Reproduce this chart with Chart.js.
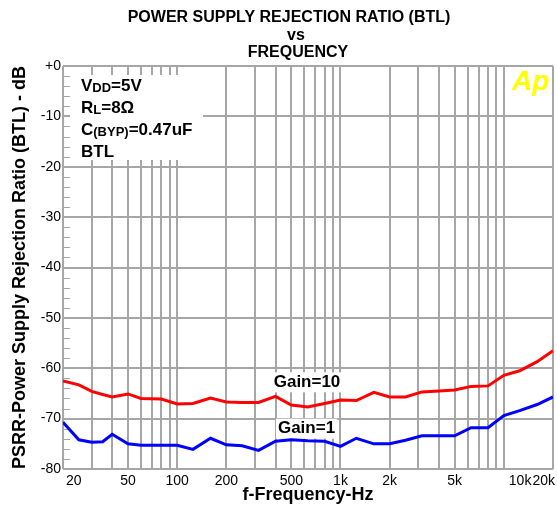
<!DOCTYPE html>
<html>
<head>
<meta charset="utf-8">
<title>PSRR vs Frequency</title>
<script src="https://cdn.jsdelivr.net/npm/chart.js@4.4.1/dist/chart.umd.min.js"></script>
<style>
    html, body { margin: 0; padding: 0; background: #fff; }
    #psrrChart { display: block; }
</style>
</head>
<body>
<canvas id="psrrChart" width="557" height="506"></canvas>
<script>
// data
const frequencies = [20, 25, 30, 35, 40, 50, 60, 80, 100, 125, 160, 200, 250, 315, 400, 500, 630, 800,
    1000, 1250, 1600, 2000, 2500, 3150, 4000, 5000, 6300, 8000, 10000, 12500, 16000, 20000];
const gain10 = [-62.5, -63.3, -64.6, -65.2, -65.7, -65.1, -66.0, -66.1, -67.1, -67.0, -65.9, -66.7, -66.8, -66.8,
    -65.6, -67.3, -67.7, -67.0, -66.3, -66.4, -64.8, -65.7, -65.7, -64.7, -64.5, -64.3, -63.6, -63.5,
    -61.4, -60.5, -58.7, -56.5];
const gain1 = [-70.7, -74.2, -74.7, -74.6, -73.1, -75.0, -75.3, -75.3, -75.3, -76.1, -73.9, -75.2, -75.4, -76.3,
    -74.5, -74.2, -74.4, -74.5, -75.5, -73.9, -75.0, -75.0, -74.3, -73.4, -73.4, -73.4, -71.8, -71.8,
    -69.4, -68.4, -67.2, -65.7];

const xGridValues = [20, 30, 40, 50, 60, 70, 80, 90, 100, 200, 300, 400, 500, 600, 700, 800, 900,
    1000, 2000, 3000, 4000, 5000, 6000, 7000, 8000, 9000, 10000, 20000];
const xLabelValues = [20, 50, 100, 200, 500, 1000, 2000, 5000, 10000, 20000];
const xLabelTexts = ['20', '50', '100', '200', '500', '1k', '2k', '5k', '10k', '20k'];

const titleLines = ['POWER SUPPLY REJECTION RATIO (BTL)', 'vs', 'FREQUENCY'];
// each line: [text, isSubscript]
const conditionLines = [
    [['V', false], ['DD', true], ['=5V', false]],
    [['R', false], ['L', true], ['=8\u03A9', false]],
    [['C', false], ['(BYP)', true], ['=0.47uF', false]],
    [['BTL', false]]
];

document.addEventListener('DOMContentLoaded', function () {
    const fontFamily = '"Liberation Sans", Arial, sans-serif';
    const gridColor = '#a6a6a6';

    const toPoints = (values) => frequencies.map((f, i) => ({ x: f, y: values[i] }));

    const decorations = {
        id: 'decorations',
        beforeDatasetsDraw(chart) {
            const { ctx, chartArea, scales: { x, y } } = chart;
            ctx.save();

            // small ticks every 2 dB on the left edge
            ctx.strokeStyle = gridColor;
            ctx.lineWidth = 1;
            for (let v = -78; v < 0; v += 2) {
                if (v % 10 === 0) continue;
                const py = Math.round(y.getPixelForValue(v)) + 0.5;
                ctx.beginPath();
                ctx.moveTo(chartArea.left, py);
                ctx.lineTo(chartArea.left + 7, py);
                ctx.stroke();
            }

            // white boxes behind the notes
            ctx.fillStyle = '#fff';
            ctx.fillRect(chartArea.left + 7, 75, 133, 85);
            ctx.font = 'bold 17px ' + fontFamily;
            [['Gain=10', 390, -62.8], ['Gain=1', 414, -72.0]].forEach(([text, f, db]) => {
                const w = ctx.measureText(text).width;
                ctx.fillRect(x.getPixelForValue(f) - 2, y.getPixelForValue(db) - 10, w + 4, 20);
            });
            ctx.restore();
        },
        afterDraw(chart) {
            const { ctx, scales: { x, y } } = chart;
            ctx.save();
            ctx.fillStyle = '#000';

            // title
            ctx.font = 'bold 16px ' + fontFamily;
            ctx.textAlign = 'center';
            ctx.textBaseline = 'middle';
            ctx.fillText(titleLines[0], 289, 18);
            ctx.fillText(titleLines[1], 296, 36);
            ctx.fillText(titleLines[2], 298, 53);

            // x tick labels
            ctx.font = '14px ' + fontFamily;
            xLabelValues.forEach((v, i) => {
                let px = x.getPixelForValue(v);
                ctx.textAlign = 'center';
                if (i === 0) { ctx.textAlign = 'left'; px += 3; }
                if (v === 10000) { ctx.textAlign = 'left'; px += 5; }
                if (i === xLabelValues.length - 1) { ctx.textAlign = 'right'; px += 2; }
                ctx.fillText(xLabelTexts[i], px, 481);
            });

            // test conditions
            ctx.textAlign = 'left';
            ctx.textBaseline = 'alphabetic';
            conditionLines.forEach((parts, row) => {
                let px = 81;
                const py = 91 + row * 22;
                parts.forEach(([text, sub]) => {
                    ctx.font = (sub ? 'bold 13px ' : 'bold 17px ') + fontFamily;
                    ctx.fillText(text, px, sub ? py + 1 : py);
                    px += ctx.measureText(text).width;
                });
            });

            // gain labels
            ctx.font = 'bold 17px ' + fontFamily;
            ctx.textBaseline = 'middle';
            ctx.fillText('Gain=10', x.getPixelForValue(390), y.getPixelForValue(-62.8));
            ctx.fillText('Gain=1', x.getPixelForValue(414), y.getPixelForValue(-72.0));

            // logo
            ctx.fillStyle = '#ffff00';
            ctx.font = 'italic bold 28px ' + fontFamily;
            ctx.textBaseline = 'alphabetic';
            ctx.fillText('Ap', 512, 90);
            ctx.restore();
        }
    };

    new Chart(document.getElementById('psrrChart'), {
        type: 'line',
        data: {
            datasets: [{
                label: 'Gain=10',
                data: toPoints(gain10),
                borderColor: '#ff0000',
                borderWidth: 3
            }, {
                label: 'Gain=1',
                data: toPoints(gain1),
                borderColor: '#0000ff',
                borderWidth: 3
            }]
        },
        options: {
            responsive: false,
            animation: false,
            devicePixelRatio: 1,
            layout: { padding: { top: 66, right: 4, left: 0, bottom: 0 } },
            elements: { point: { radius: 0 }, line: { tension: 0 } },
            plugins: {
                legend: { display: false },
                title: { display: false },
                tooltip: { enabled: false }
            },
            scales: {
                x: {
                    type: 'logarithmic',
                    min: 20,
                    max: 20000,
                    afterBuildTicks: (scale) => { scale.ticks = xGridValues.map(v => ({ value: v })); },
                    afterFit: (scale) => { scale.height = 37; scale.paddingLeft = 0; scale.paddingRight = 0; },
                    ticks: { display: false },
                    grid: { color: gridColor, lineWidth: 2, drawTicks: false },
                    border: { display: false },
                    title: {
                        display: true,
                        text: 'f-Frequency-Hz',
                        color: '#000',
                        font: { family: fontFamily, size: 18, weight: 'bold' },
                        padding: 0
                    }
                },
                y: {
                    min: -80,
                    max: 0,
                    afterFit: (scale) => { scale.width = 63; },
                    ticks: {
                        stepSize: 10,
                        padding: 2,
                        color: '#000',
                        font: { family: fontFamily, size: 14 },
                        callback: (v) => v === 0 ? '+0' : v
                    },
                    grid: { color: gridColor, lineWidth: 2, drawTicks: false },
                    border: { display: false },
                    title: {
                        display: true,
                        text: 'PSRR-Power Supply Rejection Ratio (BTL) - dB',
                        color: '#000',
                        font: { family: fontFamily, size: 18, weight: 'bold' },
                        padding: { top: 9, bottom: 0 }
                    }
                }
            }
        },
        plugins: [decorations]
    });
});
</script>
</body>
</html>
